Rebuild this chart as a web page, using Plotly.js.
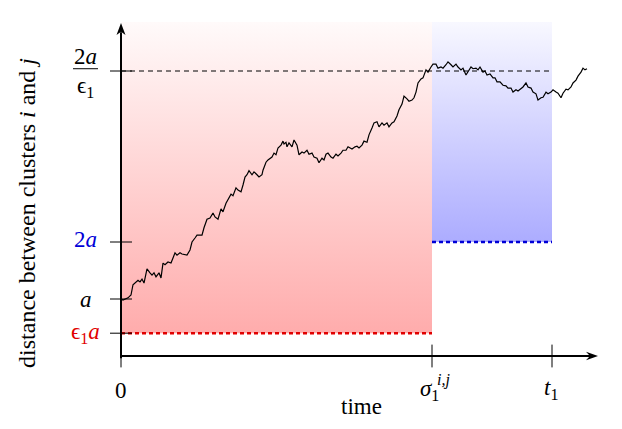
<!DOCTYPE html>
<html><head><meta charset="utf-8">
<script src="https://cdn.plot.ly/plotly-3.0.1.min.js"></script>
<style>html,body{margin:0;padding:0;background:#fff}</style>
</head><body><div id="chart" style="width:622px;height:429px"></div>
<script>
// Key values (distance in units of a, time in arbitrary units)
const a = 1;
const eps1 = 0.4;
const sigma = 3.11;
const t1 = 4.31;
const yTop = 5.86;
const xEnd = 4.77;

// Random walk
const pathTime = [0.00,0.02,0.07,0.10,0.12,0.14,0.17,0.19,0.21,0.23,0.26,0.29,0.31,0.33,0.35,0.38,0.40,0.42,0.44,0.47,
0.50,0.52,0.54,0.56,0.59,0.61,0.64,0.66,0.69,0.71,0.74,0.76,0.79,0.81,0.83,0.86,0.89,0.92,0.94,0.97,
1.00,1.02,1.05,1.07,1.10,1.12,1.15,1.17,1.20,1.22,1.24,1.26,1.28,1.31,1.33,1.36,1.38,1.41,1.42,1.45,
1.47,1.51,1.53,1.55,1.57,1.60,1.62,1.63,1.65,1.66,1.68,1.71,1.73,1.76,1.78,1.81,1.83,1.86,1.88,1.91,
1.93,1.96,1.98,2.01,2.03,2.05,2.07,2.10,2.12,2.15,2.17,2.20,2.22,2.25,2.27,2.31,2.34,2.36,2.38,2.41,
2.43,2.46,2.48,2.51,2.53,2.56,2.58,2.61,2.63,2.66,2.68,2.71,2.73,2.76,2.78,2.81,2.83,2.86,2.88,2.91,
2.93,2.95,2.97,3.00,3.02,3.05,3.07,3.10,3.12,3.15,3.17,3.20,3.22,3.25,3.27,3.30,3.32,3.35,3.37,3.40,
3.42,3.45,3.47,3.50,3.52,3.55,3.57,3.59,3.62,3.64,3.66,3.69,3.72,3.74,3.76,3.79,3.82,3.85,3.87,3.90,
3.92,3.95,3.97,4.00,4.02,4.05,4.07,4.10,4.12,4.15,4.17,4.20,4.22,4.25,4.27,4.30,4.32,4.35,4.37,4.40,
4.42,4.45,4.47,4.50,4.52,4.55,4.57,4.60,4.62,4.64,4.66];
const pathDist = [1.00,0.98,1.02,1.07,1.25,1.28,1.33,1.30,1.35,1.28,1.53,1.46,1.42,1.46,1.39,1.46,1.37,1.63,1.60,1.65,
1.63,1.72,1.81,1.77,1.81,1.79,1.77,1.77,1.86,2.00,2.07,2.12,2.12,2.12,2.25,2.40,2.42,2.51,2.44,2.40,
2.58,2.53,2.68,2.74,2.84,2.81,2.95,2.91,2.88,3.00,3.14,3.18,3.25,3.18,3.23,3.18,3.14,3.18,3.26,3.40,
3.44,3.49,3.56,3.53,3.65,3.70,3.77,3.72,3.75,3.67,3.74,3.67,3.79,3.70,3.53,3.58,3.56,3.61,3.54,3.56,
3.49,3.47,3.39,3.47,3.44,3.54,3.56,3.49,3.47,3.54,3.51,3.56,3.61,3.61,3.67,3.63,3.67,3.68,3.65,3.70,
3.77,3.75,3.88,4.00,4.09,4.11,4.02,4.09,4.05,4.09,4.02,4.09,4.11,4.21,4.32,4.42,4.56,4.51,4.47,4.49,
4.53,4.63,4.79,4.86,4.88,5.02,4.98,5.07,5.12,5.12,5.05,5.07,5.05,5.11,5.16,5.11,5.07,5.12,5.07,5.02,
5.05,4.93,4.98,5.07,5.04,5.05,5.02,5.07,4.98,5.00,4.93,4.95,4.88,4.88,4.81,4.81,4.75,4.74,4.70,4.70,
4.63,4.67,4.65,4.70,4.72,4.79,4.72,4.70,4.63,4.60,4.49,4.53,4.54,4.63,4.60,4.63,4.67,4.63,4.61,4.53,
4.61,4.68,4.67,4.72,4.79,4.84,4.91,4.98,5.05,5.02,5.04];

// Tick labels
const yTickValues = [eps1 * a, a, 2 * a, 2 * a / eps1];
const xTickValues = [0, sigma, t1];
const xLabel = 'time';
const yLabel = 'distance between clusters <i>i</i> and <i>j</i>';

const FONT = "'Liberation Serif', 'Times New Roman', serif";
const FS = 23;
const RED = 'rgb(225,0,0)';
const BLUE = 'rgb(0,0,215)';

const traces = [
  { x: [0, sigma, sigma, 0], y: [eps1 * a, eps1 * a, yTop, yTop], mode: 'none', fill: 'toself',
    fillgradient: { type: 'vertical', colorscale: [[0, 'rgb(255,172,172)'], [1, 'rgb(255,250,250)']] },
    hoverinfo: 'skip', showlegend: false },
  { x: [sigma, t1, t1, sigma], y: [2 * a, 2 * a, yTop, yTop], mode: 'none', fill: 'toself',
    fillgradient: { type: 'vertical', colorscale: [[0, 'rgb(172,172,255)'], [1, 'rgb(248,248,255)']] },
    hoverinfo: 'skip', showlegend: false },
  { x: pathTime, y: pathDist, mode: 'lines', line: { color: '#000', width: 1.2 },
    hoverinfo: 'skip', showlegend: false }
];

const shapes = [];
function line(x0, y0, x1, y1, color, width, dash) {
  shapes.push({ type: 'line', xref: 'x', yref: 'y', x0, y0, x1, y1, layer: 'above',
    line: { color, width, dash: dash || 'solid' } });
}
// dashed reference lines
line(0, 2 * a / eps1, t1, 2 * a / eps1, '#000', 1, '5px,4px');
line(0, eps1 * a, sigma, eps1 * a, RED, 2.5, '4px,3px');
line(sigma, 2 * a, t1, 2 * a, BLUE, 2.5, '4px,3px');
// axes
line(0, -0.04, 0, yTop - 0.18, '#000', 2);
line(-0.01, 0, xEnd - 0.08, 0, '#000', 2);
shapes.push({ type: 'path', xref: 'x', yref: 'y', layer: 'above', fillcolor: '#000', line: { width: 0 },
  path: `M 0,${yTop - 0.02} L 0.045,${yTop - 0.23} L 0,${yTop - 0.17} L -0.045,${yTop - 0.23} Z` });
shapes.push({ type: 'path', xref: 'x', yref: 'y', layer: 'above', fillcolor: '#000', line: { width: 0 },
  path: `M ${xEnd},0 L ${xEnd - 0.12},0.075 L ${xEnd - 0.08},0 L ${xEnd - 0.12},-0.075 Z` });
// ticks
xTickValues.forEach((v, i) => line(v, i === 0 ? 0 : 0.2, v, -0.2, '#000', 1));
yTickValues.forEach(v => line(-0.11, v, 0.11, v, '#000', 1));
// fraction bar of 2a/eps1
line(-0.48, 2 * a / eps1 + 0.04, -0.23, 2 * a / eps1 + 0.04, '#000', 1);

function ann(x, y, text, opts) {
  return Object.assign({ x, y, xref: 'x', yref: 'y', text, showarrow: false,
    xanchor: 'center', yanchor: 'middle', font: { family: FONT, size: FS, color: '#000' } }, opts || {});
}
const annotations = [
  ann(-0.355, 2 * a / eps1 + 0.26, '2<i>a</i>'),
  ann(-0.355, 2 * a / eps1 - 0.28, 'ϵ<sub>1</sub>'),
  ann(-0.355, 2 * a + 0.04, '2<i>a</i>', { font: { family: FONT, size: FS, color: BLUE } }),
  ann(-0.355, a, '<i>a</i>'),
  ann(-0.355, eps1 * a, 'ϵ<sub>1</sub><i>a</i>', { font: { family: FONT, size: FS, color: RED } }),
  ann(0, -0.6, '0'),
  ann(sigma - 0.03, -0.6, '<i>σ</i><sub>1</sub>'),
  ann(sigma + 0.11, -0.42, '<i>i,j</i>', { font: { family: FONT, size: 16, color: '#000' } }),
  ann(t1 - 0.01, -0.58, '<i>t</i><sub>1</sub>'),
  ann(2.40, -0.88, xLabel),
  ann(-0.94, 2.51, yLabel, { textangle: -90, font: { family: FONT, size: 24, color: '#000' } })
];

const layout = {
  width: 622, height: 429,
  margin: { l: 0, r: 0, t: 0, b: 0 },
  paper_bgcolor: '#fff', plot_bgcolor: '#fff',
  xaxis: { visible: false, range: [-1.21, 5.01], fixedrange: true },
  yaxis: { visible: false, range: [-1.2807, 6.2456], fixedrange: true },
  shapes, annotations, showlegend: false
};
Plotly.newPlot('chart', traces, layout, { displayModeBar: false, staticPlot: true });
</script>
</body></html>
